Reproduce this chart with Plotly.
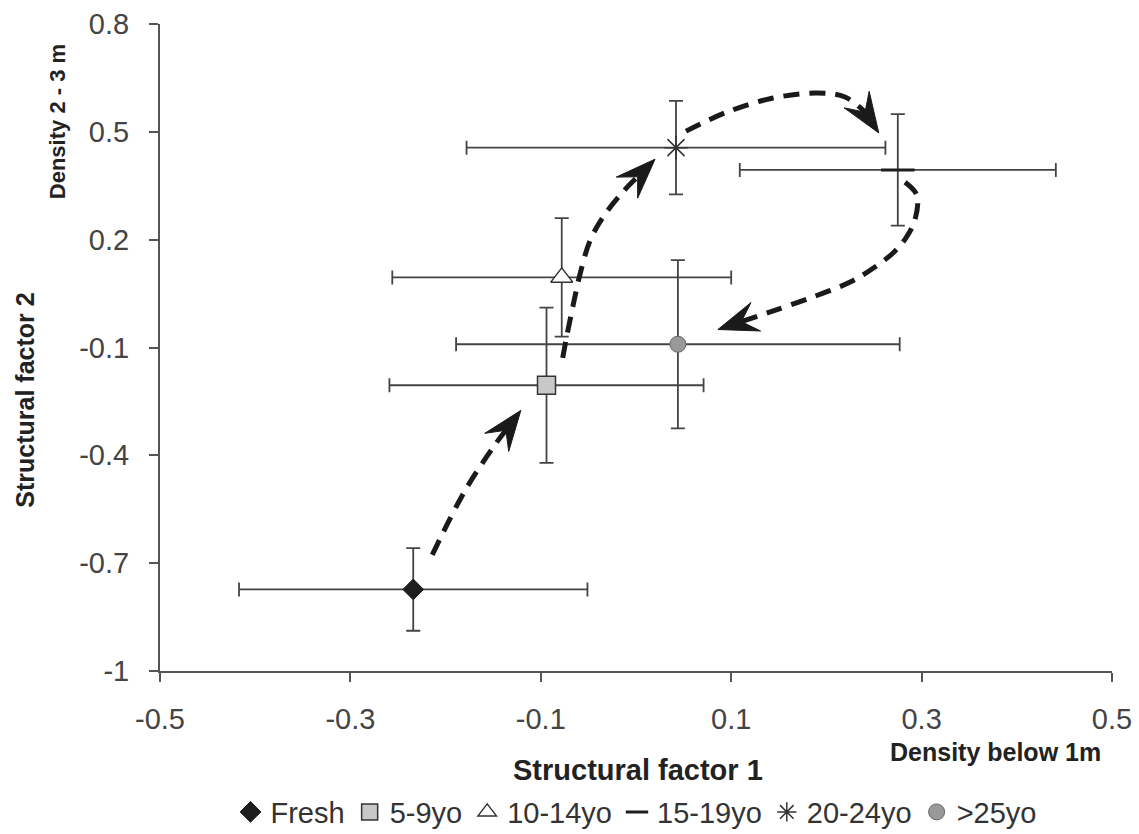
import math
import plotly.graph_objects as go

# ---- data ----
groups = ["Fresh", "5-9yo", "10-14yo", "15-19yo", "20-24yo", ">25yo"]
factor1 = [-0.234, -0.094, -0.078, 0.275, 0.042, 0.044]
factor2 = [-0.773, -0.205, 0.095, 0.394, 0.456, -0.091]
err_f1 = [0.183, 0.165, 0.178, 0.166, 0.220, 0.233]
err_f2 = [0.115, 0.216, 0.165, 0.155, 0.130, 0.234]

x_ticks = [-0.5, -0.3, -0.1, 0.1, 0.3, 0.5]
y_ticks = [-1, -0.7, -0.4, -0.1, 0.2, 0.5, 0.8]

# dashed trajectory arrows (data coordinates, last point = arrow tip)
arrow1_x = [-0.214, -0.180, -0.148, -0.121]
arrow1_y = [-0.677, -0.500, -0.370, -0.275]
arrow2_x = [-0.077, -0.0725, -0.066, -0.059, -0.048, -0.033, -0.012, 0.020]
arrow2_y = [-0.129, -0.065, 0.018, 0.102, 0.199, 0.269, 0.338, 0.424]
arrow3_x = [0.0525, 0.0956, 0.144, 0.190, 0.2195, 0.2405, 0.255]
arrow3_y = [0.502, 0.555, 0.594, 0.608, 0.597, 0.555, 0.497]
arrow4_x = [0.2826, 0.295, 0.293, 0.2836, 0.270, 0.251, 0.225, 0.183, 0.141, 0.086]
arrow4_y = [0.360, 0.324, 0.255, 0.205, 0.163, 0.124, 0.082, 0.038, -0.001, -0.050]
arrows = [(arrow1_x, arrow1_y), (arrow2_x, arrow2_y), (arrow3_x, arrow3_y), (arrow4_x, arrow4_y)]

# ---- layout geometry ----
X_RANGE = [-0.5, 0.5]
Y_RANGE = [-1, 0.8]
W, H = 1139, 834
ML, MT, PW, PH = 160, 24, 952, 647
MR = W - ML - PW
MB = H - MT - PH
SX = PW / (X_RANGE[1] - X_RANGE[0])  # px per x unit
SY = PH / (Y_RANGE[1] - Y_RANGE[0])  # px per y unit

# ---- styles ----
symbols = ["diamond", "square", "triangle-up", "line-ew", "asterisk-open", "circle"]
fills = ["#1e1e1e", "#c8c8c8", "#ffffff", "#1e1e1e", "#333333", "#999999"]
lines = ["#1e1e1e", "#333333", "#333333", "#1e1e1e", "#333333", "#666666"]
lwidths = [1, 1.5, 1.5, 3, 1.5, 1]
sizes = [16, 18, 19, 24, 20, 16]

err_col = "#444444"
fig = go.Figure()

for i, g in enumerate(groups):
    fig.add_trace(go.Scatter(
        x=[factor1[i]], y=[factor2[i]], mode="markers", name=g,
        marker=dict(symbol=symbols[i], color=fills[i], size=sizes[i],
                    line=dict(color=lines[i], width=lwidths[i])),
        error_x=dict(type="data", array=[err_f1[i]], symmetric=True,
                     color=err_col, thickness=1.8, width=7),
        error_y=dict(type="data", array=[err_f2[i]], symmetric=True,
                     color=err_col, thickness=1.8, width=7),
    ))

HEAD_L, HEAD_W, NOTCH = 40, 15, 0.62
for ax_, ay_ in arrows:
    tx, ty = ax_[-1], ay_[-1]
    px, py = ax_[-2], ay_[-2]
    # direction in pixel space (y up)
    dx, dy = (tx - px) * SX, (ty - py) * SY
    n = math.hypot(dx, dy)
    ux, uy = dx / n, dy / n
    vx, vy = -uy, ux

    def pt(back, side):
        return (tx + (-ux * back + vx * side) / SX, ty + (-uy * back + vy * side) / SY)

    notch = pt(HEAD_L * NOTCH, 0)
    lx, ly = list(ax_[:-1]) + [notch[0]], list(ay_[:-1]) + [notch[1]]
    fig.add_trace(go.Scatter(
        x=lx, y=ly, mode="lines", showlegend=False, hoverinfo="skip",
        line=dict(color="#1a1a1a", width=5, dash="16px,10px", shape="spline"),
    ))
    head = [pt(0, 0), pt(HEAD_L, HEAD_W), notch, pt(HEAD_L, -HEAD_W), pt(0, 0)]
    fig.add_trace(go.Scatter(
        x=[p[0] for p in head], y=[p[1] for p in head], mode="lines", fill="toself",
        fillcolor="#1a1a1a", line=dict(color="#1a1a1a", width=1),
        showlegend=False, hoverinfo="skip",
    ))

FAM = "Liberation Sans, Arial, sans-serif"
annotations = [
    dict(text="<b>Structural factor 2</b>", x=-0.142, y=0.419, xref="paper", yref="paper",
         textangle=-90, showarrow=False, xanchor="center", yanchor="middle",
         font=dict(family=FAM, size=25, color="#222222")),
    dict(text="<b>Density 2 - 3 m</b>", x=-0.108, y=0.8485, xref="paper", yref="paper",
         textangle=-90, showarrow=False, xanchor="center", yanchor="middle",
         font=dict(family=FAM, size=22, color="#222222")),
    dict(text="<b>Structural factor 1</b>", x=0.502, y=-0.153, xref="paper", yref="paper",
         showarrow=False, xanchor="center", yanchor="middle",
         font=dict(family=FAM, size=29, color="#222222")),
    dict(text="<b>Density below 1m</b>", x=0.878, y=-0.125, xref="paper", yref="paper",
         showarrow=False, xanchor="center", yanchor="middle",
         font=dict(family=FAM, size=25, color="#222222")),
]

tick_font = dict(family=FAM, size=29, color="#444444")
fig.update_layout(
    width=W, height=H,
    margin=dict(l=ML, r=MR, t=MT, b=MB, autoexpand=False),
    paper_bgcolor="white", plot_bgcolor="white",
    showlegend=True,
    legend=dict(orientation="h", x=0.5, y=-0.218, xanchor="center", yanchor="middle",
                font=dict(family=FAM, size=29, color="#333333"),
                itemwidth=30, tracegroupgap=0, bgcolor="rgba(0,0,0,0)"),
    annotations=annotations,
    xaxis=dict(range=X_RANGE, tickvals=x_ticks, ticktext=[str(v) for v in x_ticks],
               showgrid=False, zeroline=False, showline=True, linecolor="#555555", linewidth=2,
               ticks="outside", ticklen=9, tickwidth=2, tickcolor="#555555",
               ticklabelstandoff=12, ticklabeloverflow="allow", tickfont=tick_font),
    yaxis=dict(range=Y_RANGE, tickvals=y_ticks, ticktext=[str(v) for v in y_ticks],
               showgrid=False, zeroline=False, showline=True, linecolor="#555555", linewidth=2,
               ticks="outside", ticklen=9, tickwidth=2, tickcolor="#555555",
               ticklabelstandoff=14, ticklabeloverflow="allow", tickfont=tick_font),
)

fig.write_html("out.html", config={"displayModeBar": False},
               post_script="document.body.style.margin='0px';document.body.style.overflow='hidden';")
